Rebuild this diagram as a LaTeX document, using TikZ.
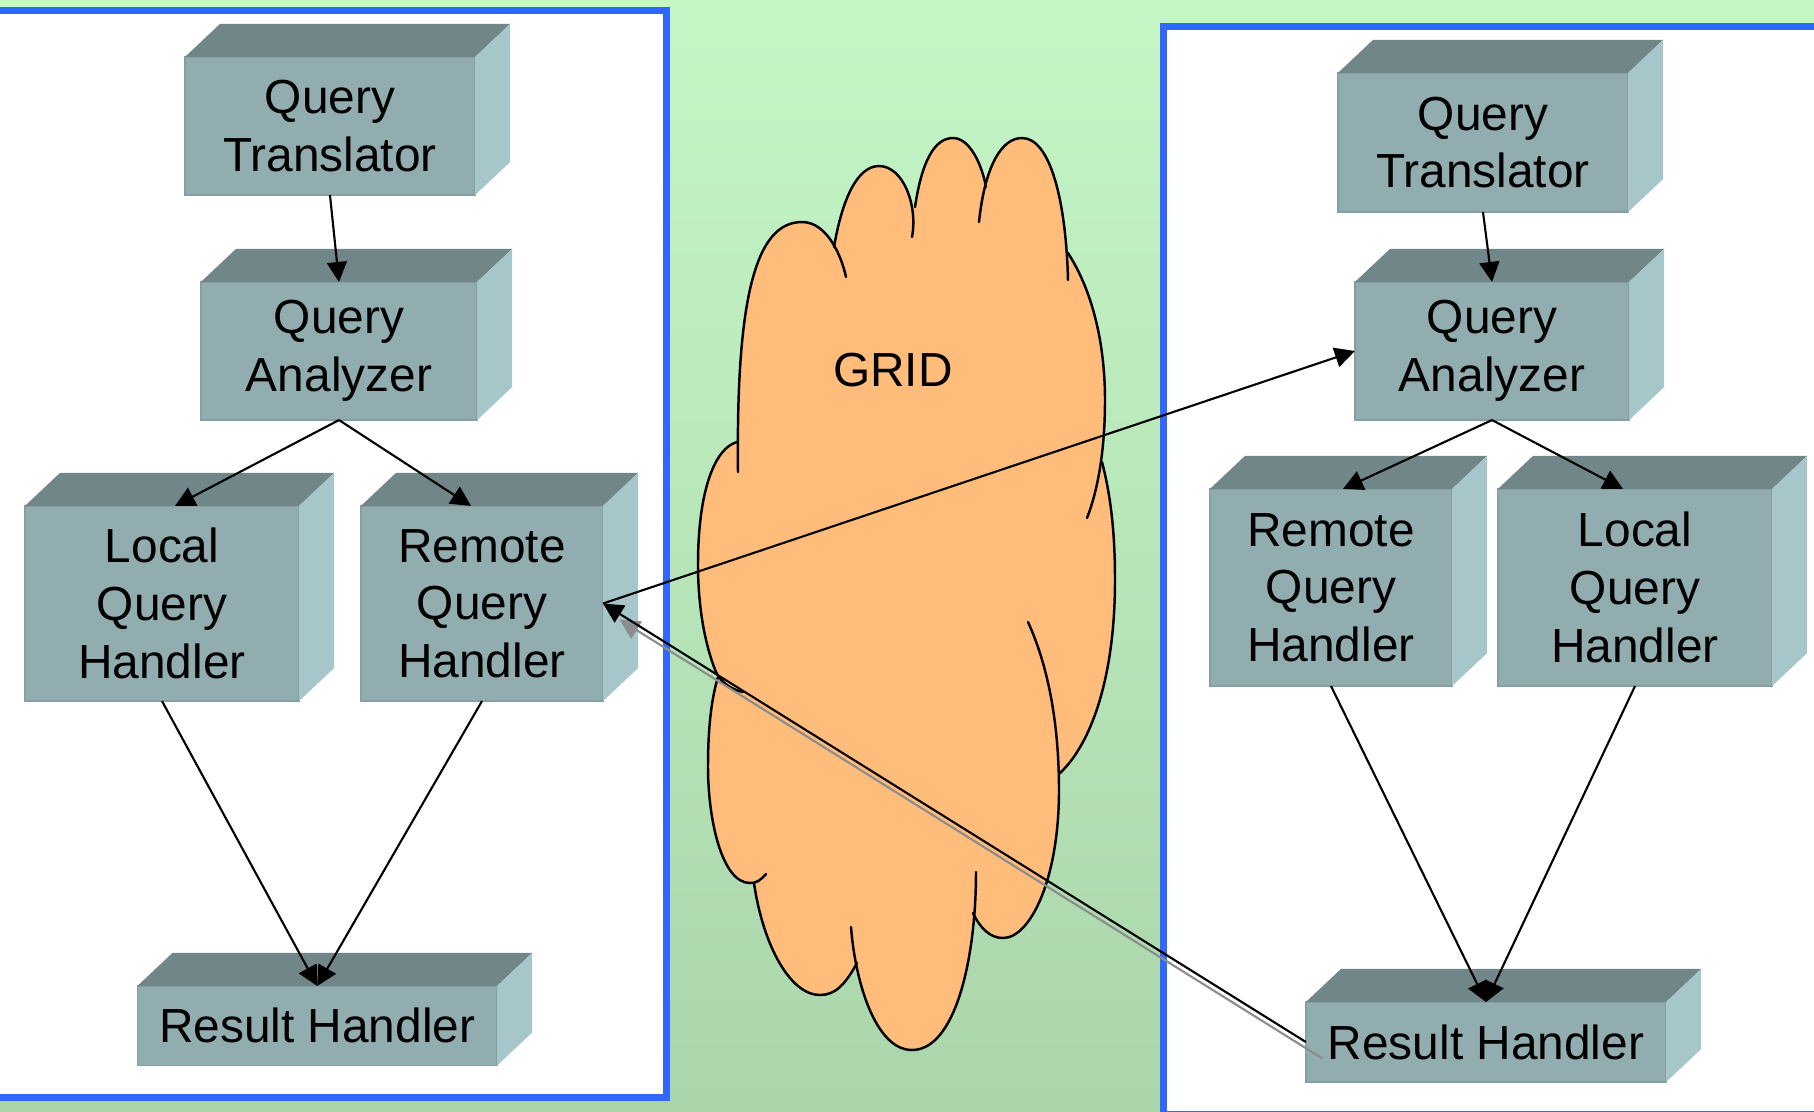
\documentclass[tikz,border=0pt]{standalone}
\usepackage{fontspec}
\setmainfont{Liberation Sans}
\usetikzlibrary{arrows.meta,calc}

\definecolor{bgtop}{HTML}{C4F6C6}
\definecolor{bgbot}{HTML}{ABD5AB}
\definecolor{panelblue}{HTML}{3366FF}
\definecolor{facefront}{HTML}{92ADB0}
\definecolor{facetop}{HTML}{708688}
\definecolor{faceside}{HTML}{A7C6C9}
\definecolor{faceedge}{HTML}{869FA2}
\definecolor{cloudorange}{HTML}{FFBC7A}
\definecolor{shadowgray}{HTML}{8C8C8C}

% cloud lobes, each one arc of the outline (ends may run on into the cloud)
\def\cloudlobes{%
 {(738,472) .. controls (736,300) and (755,222) .. (802,222) .. controls (828,222) and (842,258) .. (846,277)},%
 {(834,247) .. controls (842,200) and (857,166) .. (879,166) .. controls (903,166) and (918,205) .. (912,237)},%
 {(915,207) .. controls (922,160) and (935,138) .. (953,138) .. controls (970,138) and (982,165) .. (986,187)},%
 {(979,222) .. controls (985,165) and (1002,138) .. (1022,138) .. controls (1050,138) and (1066,200) .. (1068,280)},%
 {(1068,253) .. controls (1095,295) and (1105,350) .. (1105,400) .. controls (1105,450) and (1098,490) .. (1087,518)},%
 {(1102,462) .. controls (1112,500) and (1115,540) .. (1115,580) .. controls (1115,680) and (1090,745) .. (1060,773)},%
 {(1028,622) .. controls (1050,670) and (1059,730) .. (1059,790) .. controls (1059,880) and (1030,938) .. (1003,938) .. controls (990,938) and (980,928) .. (973,913)},%
 {(976,872) .. controls (976,960) and (955,1050) .. (912,1050) .. controls (875,1050) and (855,980) .. (851,927)},%
 {(857,963) .. controls (845,985) and (835,995) .. (820,995) .. controls (790,995) and (763,945) .. (754,883)},%
 {(766,874) .. controls (760,881) and (756,883) .. (750,883) .. controls (722,883) and (708,820) .. (708,767) .. controls (708,730) and (711,700) .. (718,677)},%
 {(743,692) .. controls (733,690) and (722,684) .. (716,672) .. controls (703,640) and (698,600) .. (698,565) .. controls (698,490) and (715,448) .. (737,442)}%
}

\begin{document}
\begin{tikzpicture}[x=0.01cm,y=-0.01cm,
  box/.style={rectangle, fill=facefront, draw=faceedge, line width=0.4pt,
    inner sep=0pt, outer sep=0pt, align=center,
    font=\fontsize{13.6pt}{16.4pt}\selectfont},
  conn/.style={line width=0.6pt, -{Triangle[length=0.2cm,width=0.2cm]}},
  panel/.style={fill=white, draw=panelblue, line width=0.07cm},
  cloudline/.style={line width=0.7pt, line cap=round}]

\useasboundingbox (0,0) rectangle (1814,1111);
\clip (0,0) rectangle (1814,1111);

% background
\shade[top color=bgtop, bottom color=bgbot] (0,0) rectangle (1814,1111);

% the two sites
\path[panel] (-50,10) rectangle (666.5,1097);
\path[panel] (1163,26.4) rectangle (1900,1114.5);

% the grid cloud: fills first, then the outline arcs
\fill[cloudorange] (737,442) -- (834,247) -- (915,207) -- (986,187) -- (1068,253)
  -- (1102,462) -- (1060,773) -- (973,913) -- (857,963) -- (754,883) -- (718,677) -- cycle;
\foreach \pts in \cloudlobes {
  \edef\lobefill{\noexpand\fill[cloudorange] \pts -- cycle;}
  \lobefill
}
\foreach \pts in \cloudlobes {
  \edef\lobeedge{\noexpand\draw[cloudline] \pts;}
  \lobeedge
}
\node[font=\fontsize{13.6pt}{16pt}\selectfont] (grid) at (893,370) {GRID};

% left site
\node[box, minimum width=2.90cm, minimum height=1.38cm] (lqt)  at (330,126)     {Query\\Translator};
\node[box, minimum width=2.76cm, minimum height=1.38cm] (lqa)  at (339,351)     {Query\\Analyzer};
\node[box, minimum width=2.74cm, minimum height=1.95cm] (llqh) at (162,603.5)   {Local\\Query\\Handler};
\node[box, minimum width=2.42cm, minimum height=1.95cm] (lrqh) at (482,603.5)   {Remote\\Query\\Handler};
\node[box, minimum width=3.595cm, minimum height=0.795cm] (lrh) at (317.25,1025.75) {Result Handler};

% right site
\node[box, minimum width=2.90cm, minimum height=1.39cm] (rqt)  at (1483,142.5)  {Query\\Translator};
\node[box, minimum width=2.74cm, minimum height=1.38cm] (rqa)  at (1492,351)    {Query\\Analyzer};
\node[box, minimum width=2.42cm, minimum height=1.97cm] (rrqh) at (1331,587.5)  {Remote\\Query\\Handler};
\node[box, minimum width=2.74cm, minimum height=1.97cm] (rlqh) at (1635,587.5)  {Local\\Query\\Handler};
\node[box, minimum width=3.60cm, minimum height=0.80cm] (rrh)  at (1486,1042)   {Result Handler};

% top and side faces of every block
\foreach \n in {lqt,lqa,llqh,lrqh,lrh,rqt,rqa,rrqh,rlqh,rrh} {
  \fill[facetop] (\n.north west) -- ++(35,-33) -- ([shift={(35,-33)}]\n.north east)
    -- (\n.north east) -- cycle;
  \fill[faceside] (\n.north east) -- ++(35,-33) -- ([shift={(35,-33)}]\n.south east)
    -- (\n.south east) -- cycle;
}

% connectors, left site
\draw[conn] (lqt.south) -- (lqa.north);
\draw[conn] (lqa.south) -- ($(llqh.north)+(13,0)$);
\draw[conn] (lqa.south) -- ($(lrqh.north)+(-11,0)$);
\draw[conn] (llqh.south) -- (lrh.north);
\draw[conn] (lrqh.south) -- (lrh.north);

% connectors, right site
\draw[conn] (rqt.south) -- (rqa.north);
\draw[conn] (rqa.south) -- ($(rrqh.north)+(12,0)$);
\draw[conn] (rqa.south) -- ($(rlqh.north)+(-12,0)$);
\draw[conn] (rrqh.south) -- (rrh.north);
\draw[conn] (rlqh.south) -- (rrh.north);

% traffic across the grid
\draw[conn] (lrqh.east) -- (rqa.west);
\draw[conn, shadowgray] ($(rrh.west)+(16.5,16.5)$) -- ($(lrqh.east)+(16.5,16)$);
\draw[conn] (rrh.west) -- (lrqh.east);
\end{tikzpicture}
\end{document}
